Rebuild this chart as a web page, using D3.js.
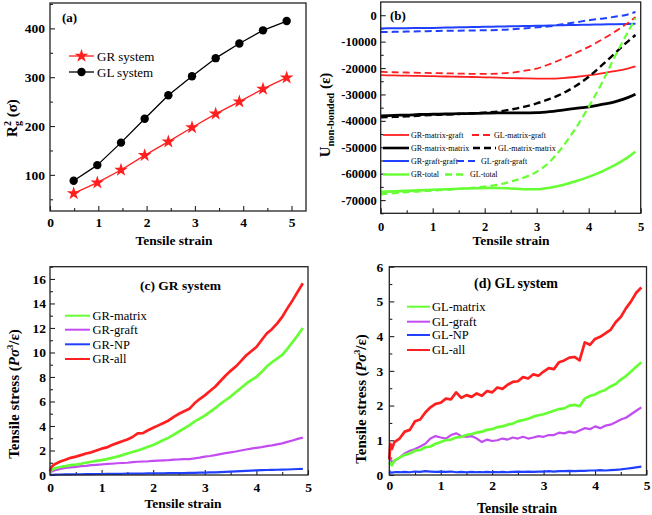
<!DOCTYPE html>
<html>
<head>
<meta charset="utf-8">
<script src="https://cdn.jsdelivr.net/npm/d3@7"></script>
<style>
  body { margin: 0; background: #fff; }
  svg { display: block; font-family: "Liberation Serif", "Times New Roman", serif; }
</style>
</head>
<body>
<svg id="chart" width="652" height="515"></svg>
<script>
// ---- (a) R^2_g vs strain
const rgStrain = [0.49, 0.98, 1.47, 1.96, 2.45, 2.94, 3.43, 3.92, 4.41, 4.90];
const rgGR = [62, 84, 110, 140, 168, 197, 225, 250, 276, 299];
const rgGL = [88, 120, 166, 215, 263, 302, 339, 369, 396, 415];

// ---- (b) non-bonded energy
const uStrain = [0, 0.25, 0.5, 0.75, 1, 1.25, 1.5, 1.75, 2, 2.25, 2.5, 2.75, 3, 3.25, 3.5, 3.75, 4, 4.25, 4.5, 4.75, 4.9];
const grMatrixGraft = [-22700, -22800, -22900, -23000, -23100, -23200, -23300, -23400, -23500, -23600, -23800, -23900, -24000, -24000, -23800, -23400, -22800, -22000, -21200, -20200, -19400];
const glMatrixGraft = [-21400, -21600, -21700, -21800, -21900, -22000, -22100, -22200, -22200, -22100, -21800, -21100, -20200, -18500, -16500, -14300, -12000, -9300, -6300, -3000, -700];
const grMatrixMatrix = [-38100, -37900, -37800, -37600, -37500, -37400, -37300, -37200, -37100, -37000, -37000, -37000, -36900, -36500, -35900, -35300, -34700, -33800, -32800, -31200, -29900];
const glMatrixMatrix = [-38700, -38500, -38300, -38000, -37800, -37600, -37400, -37200, -36900, -36500, -35700, -34700, -33400, -31700, -29600, -26800, -23300, -19000, -14500, -10000, -7500];
const grGraftGraft = [-5000, -4950, -4900, -4850, -4800, -4700, -4600, -4500, -4400, -4300, -4200, -4100, -4000, -3900, -3800, -3700, -3600, -3500, -3400, -3300, -3200];
const glGraftGraft = [-6400, -6300, -6200, -6100, -6000, -5900, -5850, -5800, -5700, -5600, -5400, -5000, -4600, -4200, -3400, -2700, -1900, -1300, -600, 300, 1200];
const grTotal = [-66900, -66700, -66500, -66300, -66100, -65900, -65700, -65500, -65400, -65400, -65600, -65900, -65900, -65300, -64300, -62900, -61200, -59200, -56800, -53800, -51700];
const glTotal = [-67800, -67400, -67000, -66700, -66400, -66100, -65800, -65400, -64900, -64200, -63000, -61500, -59300, -55500, -49800, -42800, -34700, -25800, -15800, -6500, -1200];

// ---- (c), (d) tensile stress
const stressStrain = [0, 0.02, 0.05, 0.1,
  0.2, 0.3, 0.4, 0.5, 0.6, 0.7, 0.8, 0.9, 1.0,
  1.1, 1.2, 1.3, 1.4, 1.5, 1.6, 1.7, 1.8, 1.9, 2.0,
  2.1, 2.2, 2.3, 2.4, 2.5, 2.6, 2.7, 2.8, 2.9, 3.0,
  3.1, 3.2, 3.3, 3.4, 3.5, 3.6, 3.7, 3.8, 3.9, 4.0,
  4.1, 4.2, 4.3, 4.4, 4.5, 4.6, 4.7, 4.8, 4.9];

const grMatrix = [0.2, 0.35, 0.45, 0.55,
  0.65, 0.72, 0.8, 0.85, 0.92, 1.0, 1.08, 1.15, 1.22,
  1.3, 1.4, 1.5, 1.62, 1.75, 1.88, 2.0, 2.15, 2.3, 2.45,
  2.65, 2.85, 3.05, 3.3, 3.55, 3.8, 4.05, 4.35, 4.6, 4.85,
  5.15, 5.45, 5.8, 6.1, 6.4, 6.75, 7.1, 7.45, 7.75, 8.0,
  8.4, 8.85, 9.2, 9.5, 9.8, 10.3, 10.85, 11.4, 12.0];
const grGraft = [0.15, 0.25, 0.32, 0.4,
  0.5, 0.57, 0.62, 0.67, 0.72, 0.75, 0.8, 0.83, 0.86,
  0.9, 0.92, 0.96, 0.98, 1.0, 1.05, 1.08, 1.1, 1.12, 1.15,
  1.18, 1.2, 1.22, 1.25, 1.27, 1.3, 1.3, 1.35, 1.42, 1.5,
  1.55, 1.62, 1.7, 1.78, 1.85, 1.92, 2.0, 2.08, 2.15, 2.22,
  2.28, 2.35, 2.42, 2.5, 2.58, 2.7, 2.82, 2.95, 3.05];
const grNP = [0, 0.01, 0.02, 0.03,
  0.04, 0.05, 0.05, 0.06, 0.06, 0.07, 0.07, 0.08, 0.08,
  0.09, 0.09, 0.1, 0.1, 0.11, 0.11, 0.12, 0.12, 0.13, 0.13,
  0.14, 0.14, 0.15, 0.15, 0.16, 0.16, 0.17, 0.18, 0.19, 0.2,
  0.21, 0.22, 0.24, 0.26, 0.28, 0.3, 0.32, 0.34, 0.36, 0.38,
  0.4, 0.41, 0.42, 0.43, 0.44, 0.45, 0.47, 0.49, 0.5];
const grAll = [0.3, 0.6, 0.75, 0.9,
  1.1, 1.25, 1.4, 1.5, 1.62, 1.75, 1.85, 2.0, 2.15,
  2.25, 2.45, 2.6, 2.75, 2.9, 3.1, 3.4, 3.42, 3.65, 3.85,
  4.05, 4.25, 4.45, 4.75, 5.0, 5.2, 5.4, 5.85, 6.2, 6.5,
  6.85, 7.2, 7.65, 8.1, 8.5, 8.85, 9.3, 9.75, 10.1, 10.45,
  11.0, 11.55, 11.9, 12.35, 12.9, 13.6, 14.25, 14.95, 15.65];

const glMatrix = [0.3, 0.35, 0.28, 0.42,
  0.5, 0.58, 0.62, 0.7, 0.72, 0.8, 0.82, 0.9, 0.95,
  1.0, 1.02, 1.08, 1.1, 1.15, 1.18, 1.22, 1.25, 1.3, 1.32,
  1.38, 1.4, 1.45, 1.48, 1.55, 1.58, 1.62, 1.68, 1.72, 1.75,
  1.8, 1.85, 1.9, 1.92, 2.0, 2.02, 1.98, 2.2, 2.28, 2.32,
  2.4, 2.45, 2.55, 2.62, 2.75, 2.85, 2.98, 3.12, 3.25];
const glGraft = [0.5, 0.45, 0.38, 0.4,
  0.5, 0.62, 0.7, 0.75, 0.82, 0.9, 1.05, 1.12, 1.08,
  1.05, 1.15, 1.2, 1.12, 1.1, 1.12, 1.05, 0.95, 1.02, 0.98,
  1.0, 1.05, 1.02, 1.08, 1.05, 1.1, 1.05, 1.08, 1.12, 1.1,
  1.15, 1.15, 1.22, 1.2, 1.25, 1.22, 1.28, 1.35, 1.32, 1.4,
  1.35, 1.42, 1.45, 1.52, 1.6, 1.65, 1.75, 1.85, 1.95];
const glNP = [0.05, 0.08, 0.07, 0.08,
  0.08, 0.09, 0.08, 0.1, 0.09, 0.11, 0.1, 0.09, 0.1,
  0.09, 0.1, 0.08, 0.09, 0.08, 0.09, 0.08, 0.08, 0.09, 0.08,
  0.08, 0.09, 0.08, 0.09, 0.1, 0.09, 0.1, 0.09, 0.1, 0.1,
  0.11, 0.1, 0.11, 0.11, 0.12, 0.11, 0.12, 0.12, 0.13, 0.13,
  0.14, 0.13, 0.14, 0.15, 0.16, 0.18, 0.2, 0.22, 0.24];
const glAll = [0.45, 0.9, 0.75, 0.95,
  1.05, 1.25, 1.3, 1.55, 1.6, 1.8, 1.95, 2.05, 2.08,
  2.2, 2.18, 2.38, 2.22, 2.3, 2.25, 2.35, 2.28, 2.42, 2.38,
  2.52, 2.48, 2.6, 2.68, 2.7, 2.82, 2.78, 2.9, 2.86, 2.98,
  3.08, 3.05, 3.25, 3.3, 3.38, 3.4, 3.3, 3.82, 3.75, 3.92,
  3.98, 4.08, 4.18, 4.4, 4.55, 4.8, 5.0, 5.25, 5.4];

const RED = '#ff1f1f', GREEN = '#66ff33', BLUE = '#2040ff', PURPLE = '#c24cf2', BLACK = '#000';
const SERIF = '"Liberation Serif", "Times New Roman", serif';

const svg = d3.select('#chart');

const zip = (xs, ys) => xs.map((x, i) => [x, ys[i]]);

function makePanel(cfg) {
    const x = d3.scaleLinear().domain(cfg.xDomain).range([cfg.left, cfg.right]);
    const y = d3.scaleLinear().domain(cfg.yDomain).range([cfg.bottom, cfg.top]);
    const g = svg.append('g');

    // minor ticks (inward)
    g.append('g')
        .attr('transform', `translate(0,${cfg.bottom})`)
        .call(d3.axisBottom(x).tickValues(cfg.xMinor).tickSize(-3).tickFormat(''));
    g.append('g')
        .attr('transform', `translate(${cfg.left},0)`)
        .call(d3.axisLeft(y).tickValues(cfg.yMinor).tickSize(-3).tickFormat(''));

    // major ticks + labels
    g.append('g')
        .attr('transform', `translate(0,${cfg.bottom})`)
        .call(d3.axisBottom(x).tickValues(cfg.xTicks).tickSize(-5).tickPadding(cfg.xPad).tickFormat(d => String(d)));
    g.append('g')
        .attr('transform', `translate(${cfg.left},0)`)
        .call(d3.axisLeft(y).tickValues(cfg.yTicks).tickSize(-5).tickPadding(cfg.yPad).tickFormat(d => String(d)));

    g.selectAll('.domain').remove();
    g.selectAll('.tick line').attr('stroke', '#222').attr('stroke-width', 1.1);
    g.selectAll('.tick text')
        .attr('font-family', SERIF)
        .attr('font-weight', 'bold')
        .attr('font-size', cfg.tickFont)
        .attr('fill', '#000');

    const plot = g.append('g');

    g.append('rect')
        .attr('x', cfg.left).attr('y', cfg.top)
        .attr('width', cfg.right - cfg.left).attr('height', cfg.bottom - cfg.top)
        .attr('fill', 'none').attr('stroke', '#222').attr('stroke-width', 1.3);

    // x title
    g.append('text')
        .attr('x', cfg.xTitle[0]).attr('y', cfg.xTitle[1])
        .attr('text-anchor', 'middle')
        .attr('font-weight', 'bold').attr('font-size', cfg.xTitleFont)
        .text('Tensile strain');

    return { g: plot, x, y };
}

function drawLine(p, xs, ys, color, width, dash, curve) {
    p.g.append('path')
        .datum(zip(xs, ys))
        .attr('fill', 'none')
        .attr('stroke', color)
        .attr('stroke-width', width)
        .attr('stroke-dasharray', dash || null)
        .attr('stroke-linejoin', 'round')
        .attr('d', d3.line().x(d => p.x(d[0])).y(d => p.y(d[1])).curve(curve || d3.curveLinear));
}

// ================= (a)
const pa = makePanel({
    left: 50, right: 306, top: 3, bottom: 211,
    xDomain: [0, 5.3], yDomain: [26, 452],
    xTicks: [0, 1, 2, 3, 4, 5], xMinor: [0.5, 1.5, 2.5, 3.5, 4.5],
    yTicks: [100, 200, 300, 400], yMinor: [50, 150, 250, 350, 450],
    xPad: 6, yPad: 5, tickFont: 13.5,
    xTitle: [174, 245], xTitleFont: 13.5
});
drawLine(pa, rgStrain, rgGR, RED, 1.3);
drawLine(pa, rgStrain, rgGL, BLACK, 1.3);
const starSym = d3.symbol().type(d3.symbolStar).size(58);
pa.g.selectAll('.star').data(zip(rgStrain, rgGR)).join('path')
    .attr('class', 'star')
    .attr('transform', d => `translate(${pa.x(d[0])},${pa.y(d[1])})`)
    .attr('d', starSym)
    .attr('fill', RED);
pa.g.selectAll('.dot').data(zip(rgStrain, rgGL)).join('circle')
    .attr('class', 'dot')
    .attr('cx', d => pa.x(d[0])).attr('cy', d => pa.y(d[1]))
    .attr('r', 4.2).attr('fill', BLACK);

// legend (a)
const legA = svg.append('g').attr('font-size', 13);
legA.append('line').attr('x1', 69).attr('x2', 94).attr('y1', 56).attr('y2', 56).attr('stroke', RED).attr('stroke-width', 1.3);
legA.append('path').attr('transform', 'translate(81.5,56)').attr('d', starSym).attr('fill', RED);
legA.append('text').attr('x', 97).attr('y', 60.5).text('GR system');
legA.append('line').attr('x1', 69).attr('x2', 94).attr('y1', 72).attr('y2', 72).attr('stroke', BLACK).attr('stroke-width', 1.3);
legA.append('circle').attr('cx', 81.5).attr('cy', 72).attr('r', 4.2).attr('fill', BLACK);
legA.append('text').attr('x', 97).attr('y', 76.5).text('GL system');

svg.append('text').attr('x', 62).attr('y', 22).attr('font-weight', 'bold').attr('font-size', 13).text('(a)');

const yla = svg.append('text')
    .attr('transform', 'translate(17,118) rotate(-90)')
    .attr('text-anchor', 'middle')
    .attr('font-weight', 'bold').attr('font-size', 15);
yla.append('tspan').text('R');
yla.append('tspan').attr('font-size', 10).attr('dy', -6).text('2');
yla.append('tspan').attr('font-size', 10).attr('dx', -5).attr('dy', 10).text('g');
yla.append('tspan').attr('dy', -4).text(' (σ)');

// ================= (b)
const pb = makePanel({
    left: 380.7, right: 640.7, top: 2, bottom: 213.3,
    xDomain: [0, 5], yDomain: [-75000, 5000],
    xTicks: [0, 1, 2, 3, 4, 5], xMinor: [0.5, 1.5, 2.5, 3.5, 4.5],
    yTicks: [-70000, -60000, -50000, -40000, -30000, -20000, -10000, 0],
    yMinor: [-75000, -65000, -55000, -45000, -35000, -25000, -15000, -5000],
    xPad: 9, yPad: 4, tickFont: 12.5,
    xTitle: [511, 245], xTitleFont: 13.5
});
const mono = d3.curveMonotoneX;
drawLine(pb, uStrain, grGraftGraft, BLUE, 2, null, mono);
drawLine(pb, uStrain, glGraftGraft, BLUE, 2, '7,4', mono);
drawLine(pb, uStrain, grMatrixGraft, RED, 1.8, null, mono);
drawLine(pb, uStrain, glMatrixGraft, RED, 1.8, '7,4', mono);
drawLine(pb, uStrain, grMatrixMatrix, BLACK, 2.8, null, mono);
drawLine(pb, uStrain, glMatrixMatrix, BLACK, 2.4, '7,4', mono);
drawLine(pb, uStrain, grTotal, GREEN, 2.6, null, mono);
drawLine(pb, uStrain, glTotal, GREEN, 2.2, '7,4', mono);

// legend (b)
const legB = svg.append('g').attr('font-size', 8);
const legBRows = [
    { y: 135, c: RED, w: 1.8, gr: 'GR-matrix-graft', gl: 'GL-matrix-graft', dx: [472, 492, 494] },
    { y: 148, c: BLACK, w: 2.6, gr: 'GR-matrix-matrix', gl: 'GL-matrix-matrix', dx: [473, 496, 498] },
    { y: 161, c: BLUE, w: 2, gr: 'GR-graft-graft', gl: 'GL-graft-graft', dx: [457, 479, 481] },
    { y: 174.5, c: GREEN, w: 2.4, gr: 'GR-total', gl: 'GL-total', dx: [445, 467, 470] }
];
legBRows.forEach(r => {
    legB.append('line').attr('x1', 383).attr('x2', 409).attr('y1', r.y).attr('y2', r.y)
        .attr('stroke', r.c).attr('stroke-width', r.w);
    legB.append('text').attr('x', 411).attr('y', r.y + 2.8).text(r.gr);
    legB.append('line').attr('x1', r.dx[0]).attr('x2', r.dx[1]).attr('y1', r.y).attr('y2', r.y)
        .attr('stroke', r.c).attr('stroke-width', r.w).attr('stroke-dasharray', '7,4');
    legB.append('text').attr('x', r.dx[2]).attr('y', r.y + 2.8).text(r.gl);
});

svg.append('text').attr('x', 390).attr('y', 20).attr('font-weight', 'bold').attr('font-size', 13).text('(b)');

const ylb = svg.append('text')
    .attr('transform', 'translate(330,115) rotate(-90)')
    .attr('text-anchor', 'middle')
    .attr('font-weight', 'bold').attr('font-size', 15);
ylb.append('tspan').text('U');
ylb.append('tspan').attr('font-size', 10.5).attr('dy', 4).text('non-bonded');
ylb.append('tspan').attr('dy', -4).text(' (ε)');

// ================= (c)
const pc = makePanel({
    left: 50, right: 308, top: 266.7, bottom: 475,
    xDomain: [0, 5], yDomain: [0, 17],
    xTicks: [0, 1, 2, 3, 4, 5], xMinor: [0.5, 1.5, 2.5, 3.5, 4.5],
    yTicks: [0, 2, 4, 6, 8, 10, 12, 14, 16], yMinor: [1, 3, 5, 7, 9, 11, 13, 15, 17],
    xPad: 7, yPad: 4, tickFont: 13.5,
    xTitle: [183, 508], xTitleFont: 13.5
});
drawLine(pc, stressStrain, grNP, BLUE, 2.2);
drawLine(pc, stressStrain, grGraft, PURPLE, 2.2);
drawLine(pc, stressStrain, grMatrix, GREEN, 2.7);
drawLine(pc, stressStrain, grAll, RED, 2.7);

svg.append('text').attr('x', 140).attr('y', 290).attr('font-weight', 'bold').attr('font-size', 13.5).text('(c) GR system');

function stressLegend(x0, x1, tx, rows) {
    const leg = svg.append('g').attr('font-size', 12.5);
    rows.forEach(r => {
        leg.append('line').attr('x1', x0).attr('x2', x1).attr('y1', r.y).attr('y2', r.y)
            .attr('stroke', r.c).attr('stroke-width', 2);
        leg.append('text').attr('x', tx).attr('y', r.y + 4.3).text(r.t);
    });
}
stressLegend(65, 90, 92.5, [
    { y: 315.7, c: GREEN, t: 'GR-matrix' },
    { y: 329.7, c: PURPLE, t: 'GR-graft' },
    { y: 344.3, c: BLUE, t: 'GR-NP' },
    { y: 359, c: RED, t: 'GR-all' }
]);

function stressYLabel(x, y) {
    const t = svg.append('text')
        .attr('transform', `translate(${x},${y}) rotate(-90)`)
        .attr('text-anchor', 'middle')
        .attr('font-weight', 'bold').attr('font-size', 15);
    t.append('tspan').text('Tensile stress (');
    t.append('tspan').attr('font-style', 'italic').text('Pσ');
    t.append('tspan').attr('font-size', 8.5).attr('dy', -6).text('3');
    t.append('tspan').attr('dy', 6).text('/ε)');
}
stressYLabel(19, 394);

// ================= (d)
const pd = makePanel({
    left: 389.3, right: 646.5, top: 266.7, bottom: 475,
    xDomain: [0, 5], yDomain: [0, 6],
    xTicks: [0, 1, 2, 3, 4, 5], xMinor: [0.5, 1.5, 2.5, 3.5, 4.5],
    yTicks: [0, 1, 2, 3, 4, 5, 6], yMinor: [0.5, 1.5, 2.5, 3.5, 4.5, 5.5],
    xPad: 5, yPad: 6, tickFont: 13.5,
    xTitle: [517, 513], xTitleFont: 14
});
drawLine(pd, stressStrain, glNP, BLUE, 2.2);
drawLine(pd, stressStrain, glGraft, PURPLE, 2.2);
drawLine(pd, stressStrain, glMatrix, GREEN, 2.7);
drawLine(pd, stressStrain, glAll, RED, 2.7);

svg.append('text').attr('x', 474).attr('y', 288).attr('font-weight', 'bold').attr('font-size', 14).text('(d) GL system');

stressLegend(407, 430, 432, [
    { y: 306.7, c: GREEN, t: 'GL-matrix' },
    { y: 321.7, c: PURPLE, t: 'GL-graft' },
    { y: 335, c: BLUE, t: 'GL-NP' },
    { y: 350, c: RED, t: 'GL-all' }
]);
stressYLabel(366, 399);
</script>
</body>
</html>
